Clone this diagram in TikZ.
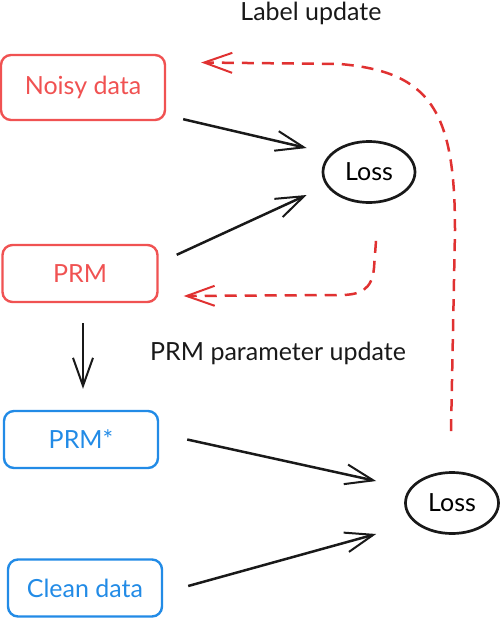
\documentclass[tikz,border=0pt]{standalone}
\usepackage{fontspec}
\setmainfont{Lato}
\usetikzlibrary{arrows.meta,calc,shapes.geometric}
\definecolor{boxred}{HTML}{F05252}
\definecolor{dashred}{HTML}{E03131}
\definecolor{boxblue}{HTML}{228BE6}
\tikzset{
  redbox/.style={draw=boxred, text=boxred, line width=2.4pt, rounded corners=10pt, font=\fontsize{25}{30}\selectfont, inner sep=0pt},
  bluebox/.style={draw=boxblue, text=boxblue, line width=2.4pt, rounded corners=10pt, font=\fontsize{25}{30}\selectfont, inner sep=0pt},
  lossnode/.style={draw=black!90, ellipse, line width=2.7pt, inner sep=0pt, font=\fontsize{25}{30}\selectfont},
  lbl/.style={font=\fontsize{25}{30}\selectfont, text=black!90, inner sep=0pt},
  arr/.style={draw=black!90, line width=2.5pt, -{Straight Barb[length=28pt,width=20pt,line width=2pt]}},
  darr/.style={draw=dashred, line width=2.5pt, dash pattern=on 12pt off 8pt, -{Straight Barb[length=28pt,width=20pt,line width=2pt]}},
}
\begin{document}
\begin{tikzpicture}[x=1pt,y=-1pt]
\useasboundingbox (0,0) rectangle (500,618);
\node[redbox, minimum width=164pt, minimum height=65pt] (noisy) at (83,87.5) {Noisy data};
\node[redbox, minimum width=155pt, minimum height=57pt] (prm) at (80,273.5) {PRM};
\node[bluebox, minimum width=154pt, minimum height=57pt] (prmstar) at (81,439.5) {PRM*};
\node[bluebox, minimum width=154pt, minimum height=57pt] (clean) at (85,588) {Clean data};
\node[lossnode, minimum width=92pt, minimum height=61pt] (loss1) at (369,172) {Loss};
\node[lossnode, minimum width=93pt, minimum height=61pt] (loss2) at (452,503) {Loss};
\node[lbl] (lblupd) at (311,13) {Label update};
\node[lbl] (prmupd) at (278,353) {PRM parameter update};

\draw[arr] ($(noisy.south east)+(17,-2)$) -- ($(loss1.west)+(-15,-24)$);
\draw[arr] ($(prm.north east)+(18,11)$) -- ($(loss1.west)+(-15,23)$);
\draw[arr] ($(prm.south)+(3,20)$) -- ($(prmstar.north)+(2,-21)$);
\draw[arr] ($(prmstar.east)+(28,0)$) -- ($(loss2.west)+(-28,-22)$);
\draw[arr] ($(clean.east)+(25,-2)$) -- ($(loss2.west)+(-28,31)$);

\coordinate (d1s) at ($(loss2.north)+(-1,-40)$);
\coordinate (d1e) at ($(noisy.east)+(35,-25)$);
\draw[darr] (d1s) -- (455,230) .. controls (455,110) and (430,72) .. (340,64) -- (d1e);
\coordinate (d2s) at ($(loss1.south)+(7,37)$);
\coordinate (d2e) at ($(prm.east)+(25,22.5)$);
\draw[darr] (d2s) -- (374,268) .. controls (372,290) and (360,295) .. (340,295) -- (d2e);
\end{tikzpicture}
\end{document}
